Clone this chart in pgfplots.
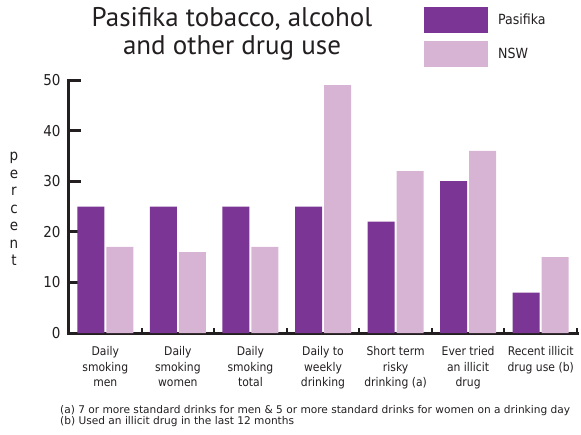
\documentclass[border=0pt]{standalone}
\usepackage{pgfplots}
\pgfplotsset{compat=1.18}
\usepackage{fontspec}
\setmainfont{DejaVu Sans Condensed}
\newfontfamily\titlefont{PT Sans}
\newfontfamily\notefont{DejaVu Sans}
\definecolor{pas}{RGB}{123,53,148}
\definecolor{nsw}{RGB}{216,180,212}
\definecolor{axc}{RGB}{35,31,32}
\begin{document}
\begin{tikzpicture}[x=1pt,y=1pt]
\useasboundingbox (-69,-101) rectangle (512,333);
\begin{axis}[
  at={(0,0)}, anchor=south west,
  scale only axis, width=508pt, height=253pt,
  xmin=-0.5, xmax=6.5, ymin=0, ymax=50,
  axis x line=bottom, axis y line=left,
  axis line style={line width=3pt, color=axc, -, line cap=rect},
  ybar=2pt, bar width=27pt,
  /pgf/number format/assume math mode=true,
  tick align=inside,
  ytick={0,10,20,30,40,50},
  major tick length=12pt,
  tick style={line width=3pt, color=axc},
  minor tick style={line width=2pt, color=axc},
  major x tick style={draw=none},
  xtick={0,1,2,3,4,5,6},
  minor xtick={0.5,1.5,2.5,3.5,4.5,5.5,6.5},
  minor tick length=5pt,
  xticklabels={{Daily\\smoking\\men},{Daily\\smoking\\women},{Daily\\smoking\\total},{Daily to\\weekly\\drinking},{Short term\\risky\\drinking (a)},{Ever tried\\an illicit\\drug},{Recent illicit\\drug use (b)}},
  xticklabel style={align=center, font=\fontsize{12}{15.5}\selectfont, text=axc, yshift=-10pt},
  yticklabel style={font=\fontsize{15}{18}\selectfont, text=axc, xshift=-5pt},
  every axis plot post/.append style={legend image code/.code={\fill[##1,draw=none] (0pt,-13pt) rectangle (64pt,13pt);}},
  legend style={at={(axis description cs:0.6988,1.2885)}, anchor=north west, draw=none, fill=none, inner sep=0pt, row sep=8pt, column sep=8pt, font=\fontsize{14}{16}\selectfont, text=axc, cells={anchor=west}},
  clip=false,
]
\addplot[fill=pas, draw=none] coordinates {(0,25) (1,25) (2,25) (3,25) (4,22) (5,30) (6,8)};
\addplot[fill=nsw, draw=none] coordinates {(0,17) (1,16) (2,17) (3,49) (4,32) (5,36) (6,15)};
\legend{Pasifika, NSW}
\end{axis}
\node[anchor=base, inner sep=0, text=axc, font=\titlefont\fontsize{27}{30}\selectfont] at (163,306) {Pasifika tobacco, alcohol};
\node[anchor=base, inner sep=0, text=axc, font=\titlefont\fontsize{27}{30}\selectfont] at (163,278) {and other drug use};
\node[align=center, inner sep=0, text=axc, font=\fontsize{15}{17.5}\selectfont] at (-55,124) {p\\e\\r\\c\\e\\n\\t};
\node[anchor=base west, inner sep=0, text=axc, font=\notefont\fontsize{10.6}{12}\selectfont] at (-9,-80) {(a) 7 or more standard drinks for men \& 5 or more standard drinks for women on a drinking day};
\node[anchor=base west, inner sep=0, text=axc, font=\notefont\fontsize{10.6}{12}\selectfont] at (-9,-91.5) {(b) Used an illicit drug in the last 12 months};
\end{tikzpicture}
\end{document}
